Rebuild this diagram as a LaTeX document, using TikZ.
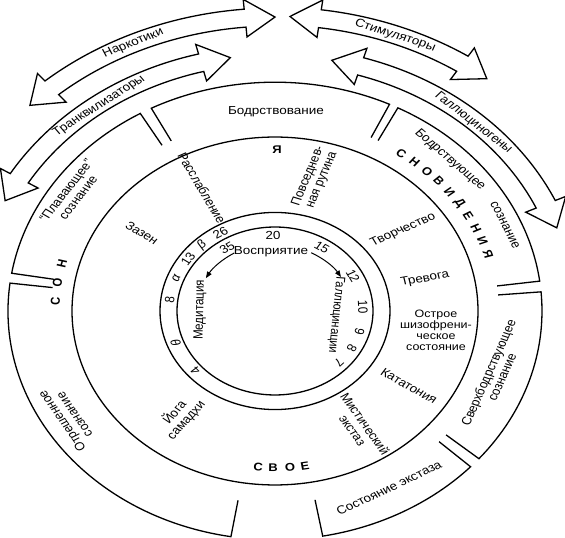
\documentclass[tikz,border=0pt]{standalone}
\usepackage{fontspec}
\setmainfont{Liberation Sans}
\usetikzlibrary{arrows.meta}
\newcommand\bentarrow[5]{%
  \pgfmathsetmacro\rOut{#2+10.5}\pgfmathsetmacro\rIn{#2-10.5}%
  \pgfmathsetmacro\rHo{#2+22}\pgfmathsetmacro\rHi{#2-22}%
  \pgfmathsetmacro\aA{#3+#5}\pgfmathsetmacro\aB{#4-#5}%
  \draw[blockarrow] (#3:#2) coordinate (#1-a) -- (\aA:\rHo) -- (\aA:\rOut)
    arc[start angle=\aA, end angle=\aB, radius=\rOut] -- (\aB:\rHo) -- (#4:#2) coordinate (#1-b)
    -- (\aB:\rHi) -- (\aB:\rIn) arc[start angle=\aB, end angle=\aA, radius=\rIn] -- (\aA:\rHi) -- cycle;}
\newcommand\ringseg[2]{\draw[ln] (#1:224) -- (#1:267) arc[start angle=#1, end angle=#2, radius=267] -- (#2:224);}
\begin{document}
\begin{tikzpicture}[x=1pt, y=-1.16686pt, yscale=0.857,
  every node/.append style={transform shape},
  ln/.style={line width=1.3pt, line join=miter},
  blockarrow/.style={line width=1.3pt, line join=miter},
  lbl/.style={font=\fontsize{13.5}{14.5}\selectfont, inner sep=0pt, align=center},
  small/.style={font=\fontsize{12.5}{12.8}\selectfont, inner sep=0pt, align=center},
  bigl/.style={font=\fontsize{13}{13}\selectfont\bfseries, inner sep=0pt},
  num/.style={font=\fontsize{13.5}{13.5}\selectfont, inner sep=0pt},
  tipline/.style={line width=1pt, -{Triangle[length=6.5pt,width=5pt]}}]
\useasboundingbox (0,0) rectangle (565,538);
\fill[white] (0,0) rectangle (565,538);
\begin{scope}[shift={(275,311)}, x=1pt, y=1pt]
  % circles
  \draw[ln] (0,0) circle[radius=98];
  \draw[ln] (0,0) circle[radius=115];
  \draw[ln] (0,0) circle[radius=203];
  % outer ring segments
  \ringseg{64.6}{117.6}
  \ringseg{120.3}{170.5}
  \ringseg{173}{260.5}
  \ringseg{280.3}{317.1}
  \ringseg{319.8}{364.8}
  \ringseg{7.5}{62.6}
  % block arrows
  \bentarrow{nark}{343}{90}{135.6}{5}
  \bentarrow{stim}{344}{52}{87.5}{5}
  \bentarrow{tranq}{299}{98.6}{154.5}{5.7}
  \bentarrow{gall}{298}{19}{79}{5.7}
  % arrow labels
  \node[lbl, rotate=24.4] (tNark) at (114.4:343) {Наркотики};
  \node[lbl, rotate=-20.5] (tStim) at (69.5:343) {Стимуляторы};
  \node[lbl, rotate=36.3] (tTranq) at (126.3:297) {Транквилизаторы};
  \node[lbl, rotate=-42] (tGall) at (47.9:296) {Галлюциногены};
  % СНОВИДЕНИЯ
  \foreach \l [count=\i from 0] in {С,Н,О,В,И,Д,Е,Н,И,Я} {
    \pgfmathsetmacro\ang{55.5-\i*4.25}
    \node[bigl, rotate=\ang-90] (sn\i) at (\ang:223) {\l};
  }
  % СОН
  \foreach \l/\a [count=\i] in {С/177.2,О/171.5,Н/165.6} {
    \node[bigl, rotate=\a-90] (son\i) at (\a:220) {\l};
  }
  % СВОЕ
  \foreach \l/\a [count=\i] in {С/264.7,В/269.4,О/274.7,Е/279.4} {
    \node[bigl, rotate=\a-270] (svoe\i) at (\a:183) {\l};
  }
  % numbers, left band
  \foreach \t/\a [count=\i] in {26/121,\itshape β/133.5,13/145,\itshape α/158.6,8/173,\itshape θ/200.8,4/221.4} {
    \node[num, rotate=\a-90] (nl\i) at (\a:106) {\t};
  }
  % numbers, inside
  \foreach \t/\a [count=\i] in {35/123,20/91.3,15/57.8,12/27.7,10/3,9/-16,8/-29.3,7/-43.5} {
    \node[num, rotate=\a-90] (nr\i) at (\a:88) {\t};
  }
  \node[lbl, rotate=89] (medit) at (179:75) {Медитация};
  \node[lbl] (vosp) at (93.3:69) {Восприятие};
  % small arrows
  \coordinate (vL) at (121:79);
  \coordinate (vR) at (62:77);
  \draw[tipline] (vL) arc[start angle=121, end angle=151, radius=79];
  \draw[tipline] (vR) arc[start angle=62, end angle=31, radius=77];
\end{scope}
% outer ring labels
\node[lbl] (bodr) at (276,112) {Бодрствование};
\node[lbl, rotate=56] (plav) at (72,194) {“Плавающее”\\сознание};
\node[lbl, rotate=121] (otr) at (68,418) {Отрешенное\\сознание};
\node[lbl, rotate=29] (ekst) at (389,488) {Состояние экстаза};
\node[lbl, rotate=69] (sverh) at (495,375) {Сверхбодрствующее\\сознание};
\node[lbl, rotate=-45] (bodrs1) at (450,160) {Бодрствующее};
\node[lbl, rotate=-66] (bodrs2) at (505,225) {сознание};
% inner labels
\node[bigl] (ya) at (277,150) {Я};
\node[lbl, rotate=-63] (rassl) at (202,188) {Расслабление};
\node[lbl, rotate=70] (povs) at (315,178) {Повседнев-\\ная рутина};
\node[lbl, rotate=-35] (zazen) at (142,233) {Зазен};
\node[lbl, rotate=27.5] (tvor) at (403,230) {Творчество};
\node[lbl, rotate=11.7] (trev) at (425,279) {Тревога};
\node[small] (ostr) at (436,330) {Острое\\шизофрени-\\ческое\\состояние};
\node[lbl, rotate=-33] (katat) at (409,386) {Кататония};
\node[lbl, rotate=-58.5] (mist) at (359,427) {Мистический\\экстаз};
\node[lbl, rotate=52] (yoga) at (180,416) {Йога\\самадхи};
\node[lbl, font=\fontsize{13}{13}\selectfont, rotate=-95] (gallu) at (336,315) {Галлюцинации};
\end{tikzpicture}
\end{document}
